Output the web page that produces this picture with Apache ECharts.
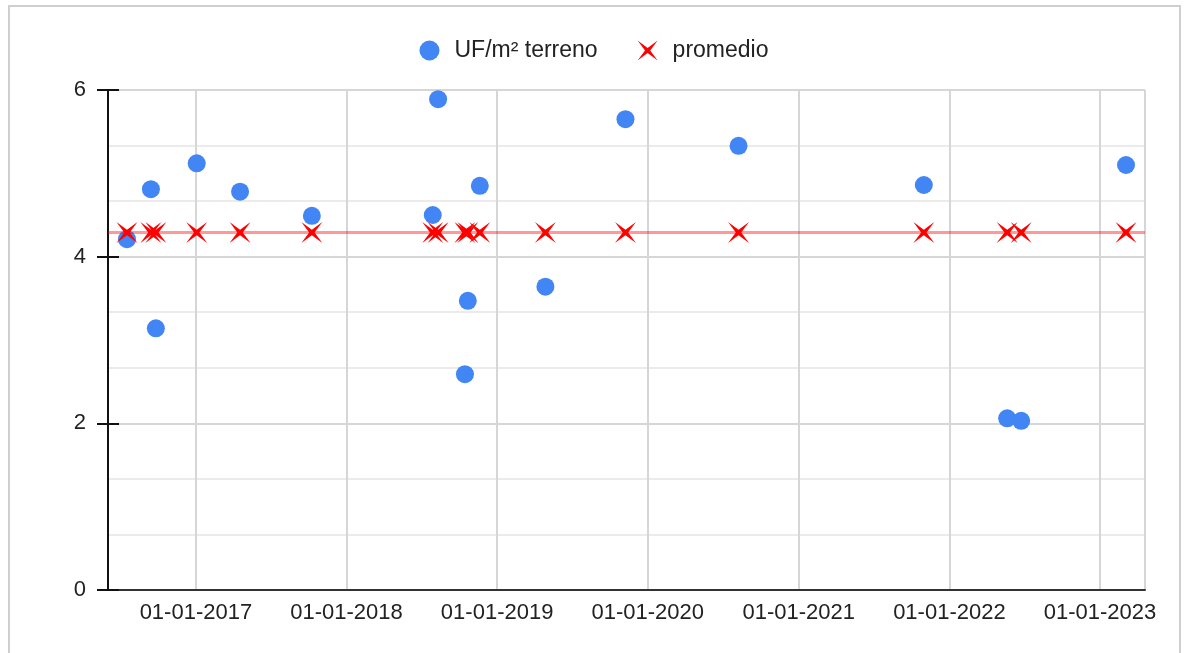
<!DOCTYPE html>
<html>
<head>
<meta charset="utf-8">
<script src="https://cdn.jsdelivr.net/npm/echarts@6/dist/echarts.min.js"></script>
<style>
  html, body { margin: 0; padding: 0; background: #fff; }
  #frame {
    position: absolute; left: 8px; top: 5px;
    width: 1173px; height: 700px;
    border: 2px solid #cfcfcf; box-sizing: border-box;
  }
  #chart { position: absolute; left: 0; top: 0; width: 1188px; height: 653px; }
</style>
</head>
<body>
<div id="frame"></div>
<div id="chart"></div>
<script>
// fechas de cada registro
var fechas = [
  '2016-07-18', '2016-09-14', '2016-09-26', '2017-01-03', '2017-04-18',
  '2017-10-09', '2018-07-29', '2018-08-11', '2018-10-15', '2018-10-22',
  '2018-11-20', '2019-04-28', '2019-11-08', '2020-08-08', '2021-10-31',
  '2022-05-21', '2022-06-24', '2023-03-05'
]
// UF/m² terreno
var ufM2 = [
  4.21, 4.81, 3.14, 5.12, 4.78,
  4.49, 4.50, 5.89, 2.59, 3.47,
  4.85, 3.64, 5.65, 5.33, 4.86,
  2.06, 2.03, 5.10
]
// promedio
var promedio = [
  4.29, 4.29, 4.29, 4.29, 4.29,
  4.29, 4.29, 4.29, 4.29, 4.29,
  4.29, 4.29, 4.29, 4.29, 4.29,
  4.29, 4.29, 4.29
]
var xMin = '2016-06-02'
var xMax = '2023-04-20'
var yTicks = [0, 2, 4, 6]

var starX = 'path://M0,0 L5,3.7 L10,0 L6.3,5 L10,10 L5,6.3 L0,10 L3.7,5 Z'
var font = 'Arial, "Liberation Sans", sans-serif'

var chart = echarts.init(document.getElementById('chart'))
chart.setOption({
  animation: false,
  legend: {
    top: 34,
    left: 'center',
    itemGap: 40,
    itemWidth: 20,
    itemHeight: 20,
    textStyle: { fontFamily: font, fontSize: 23, color: '#222', padding: [0, 0, 0, 10] },
    data: [
      { name: 'UF/m² terreno', icon: 'circle' },
      { name: 'promedio', icon: starX }
    ]
  },
  grid: { left: 108, right: 43, top: 90, bottom: 63 },
  xAxis: {
    type: 'time',
    min: xMin,
    max: xMax,
    splitNumber: 6,
    axisLine: { lineStyle: { color: '#333', width: 2 } },
    axisTick: { show: false },
    axisLabel: {
      margin: 12,
      fontFamily: font,
      fontSize: 22,
      color: '#222',
      formatter: function (v) {
        return echarts.time.format(v, '{dd}-{MM}-{yyyy}', false)
      }
    },
    splitLine: { show: true, lineStyle: { color: '#d6d6d6', width: 2 } }
  },
  yAxis: [
    {
      type: 'value',
      min: yTicks[0],
      max: yTicks[yTicks.length - 1],
      interval: 2,
      axisLine: { show: true, lineStyle: { color: '#111', width: 2 } },
      axisTick: { show: true, length: 11, lineStyle: { color: '#111', width: 2 } },
      axisLabel: { margin: 22, fontFamily: font, fontSize: 22, color: '#222' },
      splitLine: { lineStyle: { color: '#d6d6d6', width: 2 } },
      minorTick: { show: false, splitNumber: 3 },
      minorSplitLine: { show: true, lineStyle: { color: '#ebebeb', width: 2 } }
    },
    {
      type: 'value',
      position: 'left',
      min: yTicks[0],
      max: yTicks[yTicks.length - 1],
      interval: 2,
      axisLine: { show: false },
      axisTick: { show: true, inside: true, length: 11, lineStyle: { color: '#111', width: 2 } },
      axisLabel: { show: false },
      splitLine: { show: false }
    }
  ],
  series: [
    {
      name: 'UF/m² terreno',
      type: 'scatter',
      symbol: 'circle',
      symbolSize: 18,
      itemStyle: { color: '#4285f4', opacity: 1 },
      data: fechas.map(function (d, i) { return [d, ufM2[i]] }),
      z: 2
    },
    {
      name: 'promedio',
      type: 'scatter',
      symbol: starX,
      symbolSize: 21,
      itemStyle: { color: '#ff0000', opacity: 1 },
      data: fechas.map(function (d, i) { return [d, promedio[i]] }),
      markLine: {
        silent: true,
        symbol: 'none',
        label: { show: false },
        lineStyle: { color: '#ff0000', width: 3, opacity: 0.4, type: 'solid' },
        data: [{ yAxis: promedio[0] }]
      },
      z: 3
    }
  ]
})
</script>
</body>
</html>
